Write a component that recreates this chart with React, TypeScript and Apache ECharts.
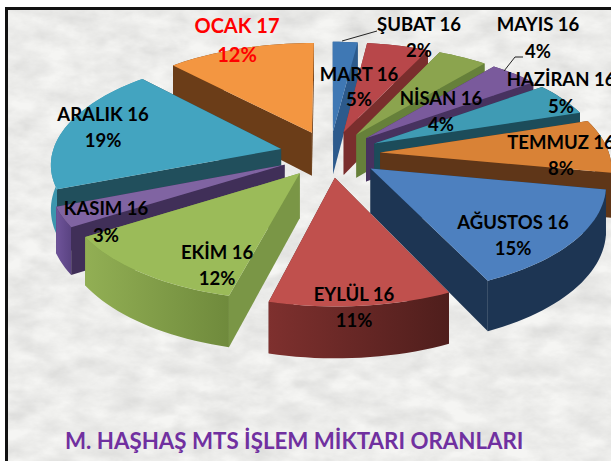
import React, { useEffect, useRef } from "react";
import * as echarts from "echarts";

const months = ["ŞUBAT 16", "MART 16", "NİSAN 16", "MAYIS 16", "HAZİRAN 16", "TEMMUZ 16", "AĞUSTOS 16", "EYLÜL 16", "EKİM 16", "KASIM 16", "ARALIK 16", "OCAK 17"];
const shares = [2, 5, 4, 4, 5, 8, 15, 11, 12, 3, 19, 12];
const title = "M. HAŞHAŞ MTS İŞLEM MİKTARI ORANLARI";

const topColors = ["#3f78b4", "#b8474a", "#8ba44e", "#7a5a9c", "#3f9bb4", "#d98236", "#4d80bf", "#c0504d", "#9bbb59", "#8064a2", "#43a4c0", "#f39641"];
const sideColors = ["#2c5a8c", "#7a2e2d", "#66803a", "#47325f", "#1c4c5a", "#5f3618", "#1d3553", "#5f2523", "#7a9646", "#402f58", "#214f5c", "#6b3d18"];
const wallLeft = ["#2c5a8c", "#7a2e2d", "#66803a", "#47325f", "#1c4c5a", "#5f3618", "#1d3553", "#7e302e", "#92af54", "#6f549a", "#3c96ae", "#6b3d18"];
const wallRight = ["#2c5a8c", "#7a2e2d", "#66803a", "#47325f", "#1c4c5a", "#5f3618", "#1d3553", "#4f1e1c", "#6f8a3c", "#5a4382", "#3c96ae", "#6b3d18"];
const drawOrder = [0, 1, 2, 3, 4, 5, 11, 10, 9, 8, 6, 7];

// label layout: centre x, first line y
const labelX = [419, 359, 441, 538, 561, 561, 513, 354, 217, 106, 103, 237];
const labelY = [24, 74, 98, 24, 79, 142, 222, 294, 252, 208, 114, 25];
const labelGap = [26, 25, 26, 27, 27, 26, 26, 26, 26, 27, 26, 29];

const CX = 330, CY = 154, R = 229, RY = 106, K = 0.125, EXPLODE = 0.22, DEPTH = 44;

const project = (X: number, Y: number, drop: number) => {
  const w = 1 + K * Y;
  return [CX + (R * X) / w, CY - (RY * Y) / w + drop / w];
};

const total = shares.reduce((a, b) => a + b, 0);
const rad = (d: number) => (d * Math.PI) / 180;
const starts: number[] = [];
shares.reduce((acc, v, i) => {
  starts[i] = acc;
  return acc + (v / total) * 360;
}, 0);

function sliceShapes(i: number) {
  const a0 = starts[i];
  const a1 = a0 + (shares[i] / total) * 360;
  const mid = (a0 + a1) / 2;
  const ox = EXPLODE * Math.sin(rad(mid));
  const oy = EXPLODE * Math.cos(rad(mid));
  const arc: number[][] = [];
  const steps = Math.max(2, Math.ceil((a1 - a0) / 2));
  for (let s = 0; s <= steps; s++) {
    const t = a0 + ((a1 - a0) * s) / steps;
    arc.push([ox + Math.sin(rad(t)), oy + Math.cos(rad(t))]);
  }
  const apex = project(ox, oy, 0);
  const topFace = [apex, ...arc.map((p) => project(p[0], p[1], 0))];
  const wall = [...arc.map((p) => project(p[0], p[1], 0)), ...arc.slice().reverse().map((p) => project(p[0], p[1], DEPTH))];
  const cut = (p: number[]) => [apex, project(p[0], p[1], 0), project(p[0], p[1], DEPTH), project(ox, oy, DEPTH)];
  const inner = project(arc[Math.floor(arc.length / 2)][0], arc[Math.floor(arc.length / 2)][1], 0);
  // a cut face shows only when the drop direction leads away from the top face
  const showsCut = (p: number[]) => {
    const e = project(p[0], p[1], 0);
    const ex = e[0] - apex[0], ey = e[1] - apex[1];
    const side = ex * (inner[1] - apex[1]) - ey * (inner[0] - apex[0]);
    return ex * side < 0;
  };
  const ends = [arc[0], arc[arc.length - 1]];
  const hidden = ends.filter((p) => !showsCut(p)).map(cut);
  const visible = ends.filter(showsCut).map(cut);
  return { topFace, wall, hidden, visible };
}

const renderSlice = (_: any, api: any) => {
  const i = api.value(0);
  const s = sliceShapes(i);
  const poly = (points: number[][], fill: any) => ({
    type: "polygon",
    shape: { points },
    style: { fill, stroke: "none" },
  });
  return {
    type: "group",
    children: [
      ...s.hidden.map((c) => poly(c, sideColors[i])),
      poly(s.wall, {
        type: "linear", x: 0, y: 0, x2: 1, y2: 0,
        colorStops: [{ offset: 0, color: wallLeft[i] }, { offset: 1, color: wallRight[i] }],
      }),
      ...s.visible.map((c) => poly(c, sideColors[i])),
      poly(s.topFace, topColors[i]),
    ],
  };
};

const renderLabel = (_: any, api: any) => {
  const i = api.value(0);
  const isRed = months[i] === "OCAK 17";
  const font = { fontFamily: "Lato, 'Open Sans', sans-serif", fontWeight: "bold" as const, fontSize: isRed ? 20 : 18.5, fill: isRed ? "#ff0000" : "#000000", align: "center" as const, verticalAlign: "middle" as const };
  return {
    type: "group",
    children: [
      { type: "text", x: labelX[i], y: labelY[i], style: { ...font, text: months[i] } },
      { type: "text", x: labelX[i], y: labelY[i] + labelGap[i], style: { ...font, text: `${shares[i]}%` } },
    ],
  };
};

const texture = `url("data:image/svg+xml,${encodeURIComponent(
  `<svg xmlns='http://www.w3.org/2000/svg' width='611' height='461'><filter id='n'><feTurbulence type='fractalNoise' baseFrequency='0.03 0.06' numOctaves='5' seed='7'/><feColorMatrix values='0 0 0 0 0.66 0 0 0 0 0.66 0 0 0 0 0.65 0.8 0.8 0 0 -0.52'/></filter><rect width='611' height='461' fill='#f5f5f3'/><rect width='611' height='461' filter='url(#n)'/></svg>`
)}")`;

export default function App() {
  const ref = useRef<HTMLDivElement>(null);
  useEffect(() => {
    document.body.style.margin = "0";
    const chart = echarts.init(ref.current!, undefined, { renderer: "svg", width: 611, height: 461 });
    chart.setOption({
      animation: false,
      backgroundColor: "transparent",
      title: {
        text: title, left: 60, top: 424,
        textStyle: { fontFamily: "Lato, 'Open Sans', sans-serif", fontWeight: "bold", fontSize: 22.3, color: "#7030a0" },
      },
      series: [
        { type: "custom", coordinateSystem: "none", renderItem: renderSlice, data: drawOrder.map((i) => [i]), silent: true, z: 1 },
        { type: "custom", coordinateSystem: "none", renderItem: renderLabel, data: months.map((_, i) => [i]), silent: true, z: 3 },
      ],
      graphic: [
        { type: "polyline", z: 2, shape: { points: [[342, 41], [377, 31]] }, style: { stroke: "#222", lineWidth: 1, fill: "none" } },
        { type: "polyline", z: 2, shape: { points: [[504, 71], [515, 57], [523, 57]] }, style: { stroke: "#222", lineWidth: 1, fill: "none" } },
      ],
    });
    return () => chart.dispose();
  }, []);
  return (
    <div style={{ position: "relative", width: 611, height: 461, background: "#fff", overflow: "hidden" }}>
      <div style={{ position: "absolute", left: 5, top: 7, width: 606, height: 454, boxSizing: "border-box", borderLeft: "3px solid #111", borderTop: "3px solid #111", backgroundImage: texture }} />
      <div ref={ref} style={{ position: "absolute", left: 0, top: 0, width: 611, height: 461 }} />
    </div>
  );
}
